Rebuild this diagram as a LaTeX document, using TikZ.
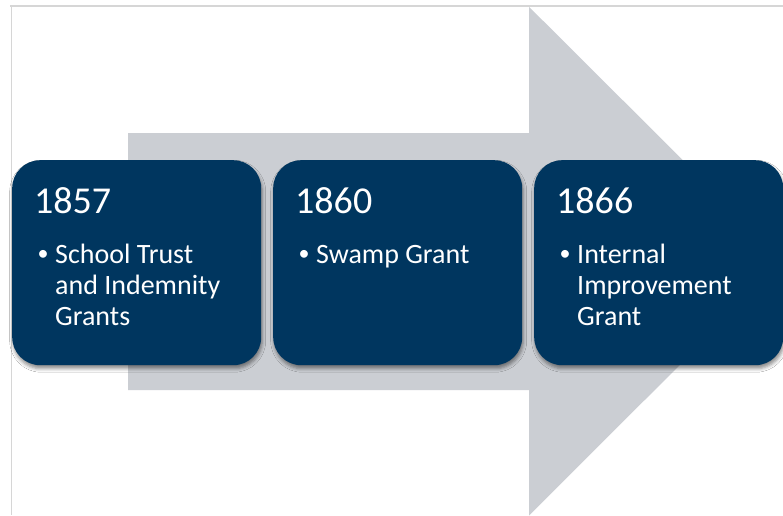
\documentclass[tikz,border=0pt]{standalone}
\usepackage{fontspec}
\setmainfont{Carlito}
\usetikzlibrary{shadows.blur}
\definecolor{navy}{HTML}{00365F}
\definecolor{arrowgray}{HTML}{CBCED3}
\definecolor{framegray}{HTML}{D6D6D6}
\tikzset{
  yearbox/.style={draw=none, fill=navy, rounded corners=28pt, minimum width=249pt, minimum height=205pt, anchor=north west, inner sep=0pt,
    blur shadow={shadow xshift=1pt, shadow yshift=-3.5pt, shadow blur radius=3.5pt, shadow opacity=45}},
  yeartext/.style={text=white, font=\fontsize{38}{42}\selectfont, anchor=base west, inner sep=0pt},
  bullettext/.style={text=white, font=\fontsize{28}{31}\selectfont, anchor=base west, inner sep=0pt},
  bulletdot/.style={text=white, font=\fontsize{22}{31}\selectfont, anchor=base west, inner sep=0pt},
}
\begin{document}
\begin{tikzpicture}[x=1pt,y=-1pt]
\useasboundingbox (0,0) rectangle (783,515);
\fill[white] (0,0) rectangle (783,515);
% frame
\draw[framegray, line width=1.6pt] (10,6) -- (783,6);
\draw[framegray, line width=1.6pt] (11.5,6) -- (11.5,515);
% arrow
\fill[arrowgray] (128,133) -- (529,133) -- (529,6.8) -- (784,261) -- (529,515.5) -- (529,390) -- (128,390) -- cycle;
% boxes
\node[yearbox] (b1) at (12,160) {};
\node[yearbox] (b2) at (273,160) {};
\node[yearbox] (b3) at (534,160) {};
% texts
\foreach \b/\y in {b1/1857, b2/1860, b3/1866} {
  \node[yeartext] (\b y) at ([xshift=22pt,yshift=-53pt]\b.north west) {\y};
  \node[bulletdot] (\b d) at ([xshift=25.5pt,yshift=-100.5pt]\b.north west) {\textbullet};
}
\node[bullettext] (b1t) at ([xshift=43pt,yshift=-103pt]b1.north west) {\parbox[t]{200pt}{\raggedright School Trust\\and Indemnity\\Grants}};
\node[bullettext] (b2t) at ([xshift=43pt,yshift=-103pt]b2.north west) {\parbox[t]{200pt}{\raggedright Swamp Grant}};
\node[bullettext] (b3t) at ([xshift=43pt,yshift=-103pt]b3.north west) {\parbox[t]{200pt}{\raggedright Internal\\Improvement\\Grant}};
\end{tikzpicture}
\end{document}
